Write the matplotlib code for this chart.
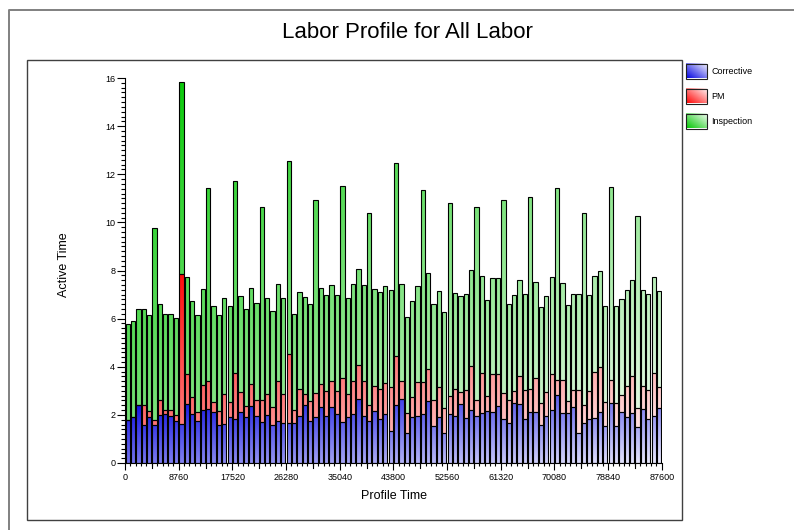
import numpy as np
import matplotlib
matplotlib.use("Agg")
import matplotlib.pyplot as plt
from matplotlib.path import Path
from matplotlib.patches import Rectangle
from matplotlib.lines import Line2D

plt.rcParams['font.family'] = ['Liberation Sans', 'DejaVu Sans']

# ---------------- data ----------------
title = "Labor Profile for All Labor"
series_names = ["Corrective", "PM", "Inspection"]
bin_hours = 876          # width of one profile bin (hours)
x_max = 87600
x_tick_step = 8760

corrective = [1.77, 1.91, 2.42, 1.59, 1.91, 1.59, 2.01, 2.05, 1.97, 1.73,
              1.63, 2.45, 2.05, 1.73, 2.21, 2.24, 2.10, 1.59, 1.63, 1.90,
              1.84, 2.12, 1.91, 2.38, 1.97, 1.69, 2.01, 1.59, 1.76, 1.66,
              1.66, 1.66, 1.97, 2.42, 1.76, 1.90, 2.31, 1.97, 2.31, 2.05,
              1.70, 1.91, 2.05, 2.66, 1.97, 1.73, 2.17, 1.83, 2.03, 1.31,
              2.42, 2.66, 1.25, 1.90, 1.95, 2.05, 2.59, 1.52, 1.90, 1.25,
              2.05, 1.97, 2.45, 1.87, 2.21, 1.94, 2.08, 2.17, 2.12, 2.35,
              1.84, 1.66, 2.49, 2.45, 1.84, 2.12, 2.12, 1.56, 1.97, 2.21,
              2.81, 2.08, 2.08, 2.31, 1.25, 1.66, 1.83, 1.87, 2.12, 1.52,
              2.49, 1.52, 2.12, 1.91, 2.08, 1.48, 2.24, 1.84, 1.97, 2.28]

pm = [0.00, 0.00, 0.00, 0.83, 0.26, 0.18, 0.61, 0.16, 0.24, 0.28,
      6.22, 1.26, 0.68, 0.40, 1.04, 1.18, 0.43, 0.58, 1.24, 0.62,
      1.90, 0.81, 0.47, 0.90, 0.66, 0.94, 0.86, 0.74, 1.66, 1.21,
      2.88, 0.54, 1.12, 0.46, 0.83, 1.01, 0.97, 1.03, 1.08, 0.93,
      1.83, 0.96, 1.37, 1.42, 1.42, 0.66, 1.05, 1.26, 1.31, 1.86,
      2.04, 0.76, 0.83, 0.84, 1.40, 1.31, 1.31, 1.08, 1.24, 1.03,
      0.75, 1.09, 0.48, 1.17, 1.83, 0.69, 1.68, 0.60, 1.58, 1.35,
      1.08, 0.94, 0.49, 1.15, 1.19, 0.95, 1.41, 0.93, 0.99, 1.50,
      0.62, 1.38, 0.49, 0.71, 1.79, 0.75, 1.15, 1.92, 1.85, 1.01,
      0.97, 0.99, 0.70, 1.30, 1.52, 0.79, 0.97, 1.20, 1.77, 0.88]

inspection = [4.0, 4.0, 4.0, 4.0, 4.0, 8.0, 4.0, 4.0, 4.0, 4.0,
              8.0, 4.0, 4.0, 4.0, 4.0, 8.0, 4.0, 4.0, 4.0, 4.0,
              8.0, 4.0, 4.0, 4.0, 4.0, 8.0, 4.0, 4.0, 4.0, 4.0,
              8.0, 4.0, 4.0, 4.0, 4.0, 8.0, 4.0, 4.0, 4.0, 4.0,
              8.0, 4.0, 4.0, 4.0, 4.0, 8.0, 4.0, 4.0, 4.0, 4.0,
              8.0, 4.0, 4.0, 4.0, 4.0, 8.0, 4.0, 4.0, 4.0, 4.0,
              8.0, 4.0, 4.0, 4.0, 4.0, 8.0, 4.0, 4.0, 4.0, 4.0,
              8.0, 4.0, 4.0, 4.0, 4.0, 8.0, 4.0, 4.0, 4.0, 4.0,
              8.0, 4.0, 4.0, 4.0, 4.0, 8.0, 4.0, 4.0, 4.0, 4.0,
              8.0, 4.0, 4.0, 4.0, 4.0, 8.0, 4.0, 4.0, 4.0, 4.0]

# ---------------- styling ----------------
base_colors = [(0.0, 0.0, 0.88), (1.0, 0.0, 0.0), (0.0, 0.78, 0.0)]
W, H = 794, 530


def gradient(base, k=0.92, n=200):
    xs = np.linspace(0, 1, n)
    X, Y = np.meshgrid(xs, xs)
    t = 0.5 * (X + (1 - Y))
    mix = (t * k)[..., None]
    return np.array(base)[None, None, :] * (1 - mix) + mix


fig = plt.figure(figsize=(W / 100, H / 100), dpi=100)

# overlay for frames / legend / labels (pixel coords)
ov = fig.add_axes([0, 0, 1, 1], zorder=0)
ov.set_xlim(0, W)
ov.set_ylim(H, 0)
ov.axis('off')

ax = fig.add_axes([125 / W, 1 - 463 / H, (661.7 - 125) / W, (463 - 78) / H], zorder=1)
ax.patch.set_alpha(0)

n = len(corrective)
c = np.array(corrective)
p = np.array(pm)
s = np.array(inspection)
centers = (np.arange(n) + 0.5) * bin_hours
width = bin_hours * 0.8

bottoms = [np.zeros(n), c, c + p]
heights = [c, p, s]

for i in range(3):
    b, h = bottoms[i], heights[i]
    ax.bar(centers, h, width, bottom=b, facecolor='none', edgecolor='black',
           linewidth=0.8, zorder=3)
    verts, codes = [], []
    for xc, bb, hh in zip(centers, b, h):
        if hh <= 0:
            continue
        l, r = xc - width / 2, xc + width / 2
        verts += [(l, bb), (r, bb), (r, bb + hh), (l, bb + hh), (l, bb)]
        codes += [Path.MOVETO, Path.LINETO, Path.LINETO, Path.LINETO, Path.CLOSEPOLY]
    path = Path(verts, codes)
    valid = h > 0
    y0 = float(b[valid].min())
    y1 = float((b + h)[valid].max())
    im = ax.imshow(gradient(base_colors[i]), extent=[0, x_max, y0, y1], origin='lower',
                   aspect='auto', interpolation='bilinear', zorder=2)
    im.set_clip_path(path, ax.transData)

ax.set_xlim(0, x_max)
ax.set_ylim(0, 16)
ax.set_xticks(np.arange(0, x_max + 1, x_tick_step))
ax.set_xticks(np.arange(0, x_max + 1, bin_hours), minor=True)
ax.set_yticks(np.arange(0, 17, 2))
ax.set_yticks(np.arange(0, 16.01, 0.2), minor=True)
ax.tick_params(axis='x', which='major', length=5, width=0.8, pad=2, labelsize=6.5)
ax.tick_params(axis='x', which='minor', length=2.3, width=0.8)
ax.tick_params(axis='y', which='major', length=5.5, width=0.8, pad=1.5, labelsize=6.5)
ax.tick_params(axis='y', which='minor', length=2.8, width=0.8)
for sp in ['top', 'right']:
    ax.spines[sp].set_visible(False)
for sp in ['left', 'bottom']:
    ax.spines[sp].set_linewidth(0.8)

# mid ticks between major x ticks
for xm in np.arange(x_tick_step / 2, x_max, x_tick_step):
    ax.add_line(Line2D([xm, xm], [0, -5 / 385], transform=ax.get_xaxis_transform(),
                       color='black', lw=0.8, clip_on=False))

# frames
ov.add_line(Line2D([9, 9, W + 5], [H + 5, 10, 10], color='#808080', lw=1.4))
ov.add_patch(Rectangle((27, 60), 655, 460, fill=False, edgecolor='#404040', lw=1.0))

# title and axis labels
ov.text(407, 32, title, ha='center', va='center', fontsize=16)
ov.text(394, 490, "Profile Time", ha='center', va='top', fontsize=9)
ov.text(64, 265, "Active Time", ha='center', va='center', fontsize=9, rotation=90)

# legend
for i, name in enumerate(series_names):
    top = 63.5 + 25 * i
    ov.imshow(gradient(base_colors[i], k=0.97), extent=[686, 707, top + 15, top],
              aspect='auto', interpolation='bilinear', zorder=2)
    ov.add_patch(Rectangle((686, top), 21, 15, fill=False, edgecolor='#202020', lw=0.8, zorder=3))
    ov.text(711, top + 8, name, ha='left', va='center', fontsize=6.5)
ov.set_xlim(0, W)
ov.set_ylim(H, 0)

fig.savefig("out.png", dpi=100)
